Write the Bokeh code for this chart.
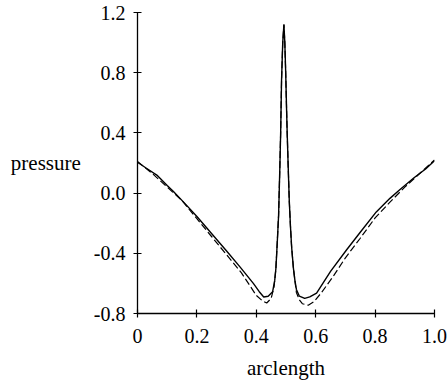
from bokeh.plotting import figure
from bokeh.models import Range1d, FixedTicker
from bokeh.embed import file_html
from bokeh.resources import INLINE

# ---- data ----
solid_x = [0.0, 0.03, 0.065, 0.10, 0.121, 0.16, 0.20, 0.25, 0.30, 0.345, 0.39, 0.41, 0.425,
           0.44, 0.455, 0.462, 0.466, 0.470, 0.475, 0.479, 0.482, 0.485, 0.489, 0.493, 0.496,
           0.499, 0.502, 0.504, 0.507, 0.511, 0.515, 0.519, 0.525, 0.530, 0.535, 0.545, 0.563,
           0.58, 0.603, 0.65, 0.703, 0.75, 0.804, 0.85, 0.882, 0.93, 0.97, 1.0]
solid_y = [0.205, 0.165, 0.12, 0.05, 0.01, -0.07, -0.155, -0.27, -0.385, -0.49, -0.60, -0.655, -0.69,
           -0.685, -0.655, -0.58, -0.50, -0.35, -0.15, 0.15, 0.40, 0.75, 1.00, 1.12, 1.00,
           0.80, 0.55, 0.40, 0.20, -0.05, -0.22, -0.36, -0.50, -0.58, -0.64, -0.685, -0.70,
           -0.69, -0.665, -0.52, -0.38, -0.26, -0.125, -0.035, 0.02, 0.10, 0.16, 0.215]

dash_x = [0.0, 0.05, 0.10, 0.15, 0.20, 0.25, 0.30, 0.35, 0.40, 0.42, 0.435, 0.45, 0.46, 0.466,
          0.470, 0.475, 0.479, 0.482, 0.485, 0.489, 0.493, 0.496, 0.499, 0.502, 0.504, 0.507,
          0.511, 0.515, 0.519, 0.525, 0.530, 0.535, 0.545, 0.555, 0.575, 0.595, 0.62, 0.66,
          0.70, 0.75, 0.80, 0.85, 0.90, 0.95, 1.0]
dash_y = [0.21, 0.13, 0.04, -0.05, -0.17, -0.29, -0.41, -0.53, -0.68, -0.715, -0.73, -0.70, -0.62, -0.50,
          -0.35, -0.15, 0.15, 0.40, 0.75, 1.00, 1.12, 1.00, 0.80, 0.55, 0.40, 0.20,
          -0.05, -0.22, -0.36, -0.50, -0.58, -0.66, -0.71, -0.735, -0.745, -0.72, -0.66, -0.55,
          -0.43, -0.30, -0.165, -0.06, 0.04, 0.13, 0.22]

x_ticks = [0, 0.2, 0.4, 0.6, 0.8, 1.0]
x_tick_labels = {0: "0", 0.2: "0.2", 0.4: "0.4", 0.6: "0.6", 0.8: "0.8", 1.0: "1.0"}
y_ticks = [-0.8, -0.4, 0.0, 0.4, 0.8, 1.2]
y_tick_labels = {-0.8: "-0.8", -0.4: "-0.4", 0.0: "0.0", 0.4: "0.4", 0.8: "0.8", 1.2: "1.2"}

FONT = "Liberation Serif"

p = figure(width=447, height=384, output_backend="svg", toolbar_location=None,
           x_range=Range1d(0, 1), y_range=Range1d(-0.8, 1.2),
           min_border_left=137, min_border_right=13, min_border_top=12, min_border_bottom=71)
p.outline_line_color = None
p.grid.visible = False
p.background_fill_color = "white"
p.border_fill_color = "white"

p.line(solid_x, solid_y, line_color="black", line_width=1.4)
p.line(dash_x, dash_y, line_color="black", line_width=1.2, line_dash="7 3")

for ax in (p.xaxis[0], p.yaxis[0]):
    ax.axis_line_color = "black"
    ax.axis_line_width = 1.3
    ax.major_tick_line_color = "black"
    ax.major_tick_line_width = 1.2
    ax.major_tick_in = 4
    ax.major_tick_out = 4
    ax.minor_tick_line_color = None
    ax.major_label_text_font = FONT
    ax.major_label_text_font_size = "20px"
    ax.major_label_text_color = "black"
    ax.axis_label_text_font = FONT
    ax.axis_label_text_font_size = "21px"
    ax.axis_label_text_font_style = "normal"
    ax.axis_label_text_color = "black"

p.xaxis.ticker = FixedTicker(ticks=x_ticks)
p.xaxis.major_label_overrides = x_tick_labels
p.xaxis.major_label_standoff = 11
p.xaxis.axis_label = "arclength"
p.xaxis.axis_label_standoff = 10

p.yaxis.ticker = FixedTicker(ticks=y_ticks)
p.yaxis.major_label_overrides = y_tick_labels
p.yaxis.major_label_standoff = 8
p.yaxis.axis_label = "pressure"
p.yaxis.axis_label_orientation = "horizontal"
p.yaxis.axis_label_standoff = 10

open("out.html", "w").write(file_html(p, INLINE))
